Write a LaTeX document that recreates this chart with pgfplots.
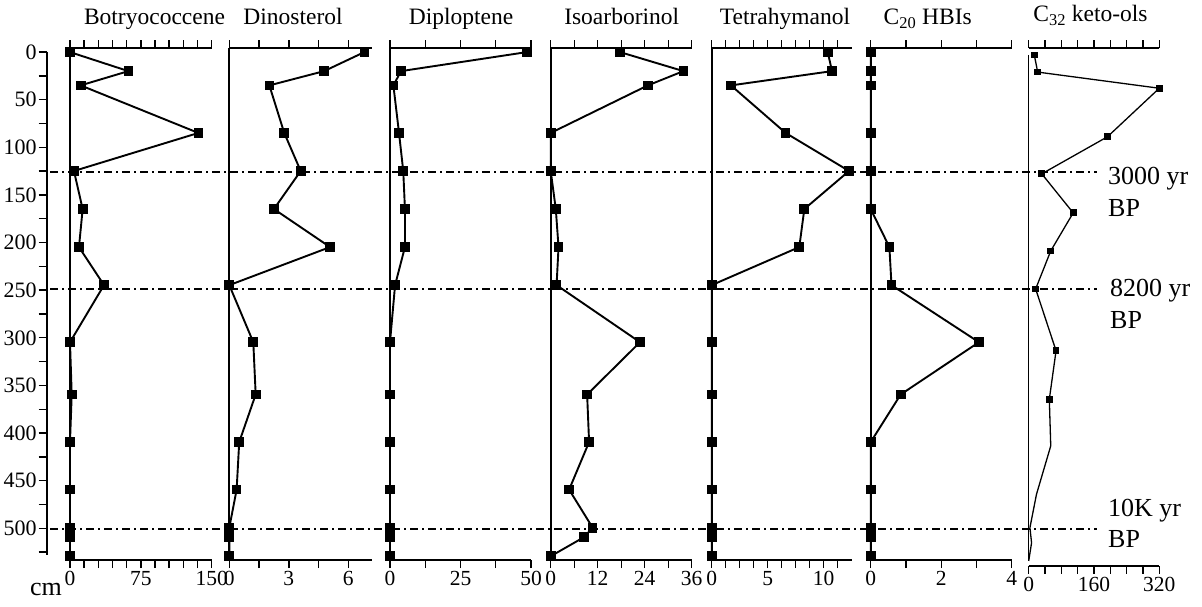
\documentclass[border=0pt]{standalone}
\usepackage{fontspec}
\setmainfont{Liberation Serif}
\usepackage{pgfplots}
\pgfplotsset{compat=1.18}
\pgfplotsset{
  base/.style={
    scale only axis, clip=false,
    y dir=reverse, ymin=-4, ymax=534, height=511.7pt,
    ytick=\empty,
    tick align=outside,
    major tick length=8pt,
    every tick/.style={line width=1.4pt, black},
    axis line style={line width=2.2pt},
    tick label style={font=\fontsize{21.5}{22}\selectfont},
    /pgf/number format/assume math mode=true,
    anchor=center,
    every axis plot/.append style={black, line width=1.9pt, mark=square*, mark size=3.9pt, mark options={solid}},
  },
  panel/.style={base, axis x line*=bottom, axis y line*=left},
  toppanel/.style={base, axis x line*=top, axis y line=none, xticklabels={}},
}
\begin{document}
\begin{tikzpicture}
\useasboundingbox (0pt,0pt) rectangle (1202pt,607pt);

% depth axis
\begin{axis}[scale only axis, at={(47.2pt,303.5pt)}, anchor=center, width=1pt, height=503pt,
  xmin=0, xmax=1, ymin=0, ymax=528, y dir=reverse, hide x axis, axis y line*=left,
  ytick={0,50,...,500}, minor ytick={25,75,...,525}, tick align=outside,
  major tick length=8pt, minor tick length=8pt,
  every tick/.style={line width=1.4pt, black},
  axis line style={line width=2.2pt},
  yticklabel style={font=\fontsize{22}{22}\selectfont, inner sep=2pt},
  /pgf/number format/assume math mode=true]
\end{axis}
\node[font=\fontsize{26}{28}\selectfont, inner sep=0] at (46pt,17pt) {cm};

% Botryococcene
\begin{axis}[toppanel, at={(140.85pt,302.85pt)}, width=141.7pt, xmin=0, xmax=150,
  xtick={0,15,30,45,60,75,90,105,120,135,150}]
\end{axis}
\begin{axis}[panel, at={(140.85pt,302.85pt)}, width=141.7pt, xmin=0, xmax=150,
  xtick={0,15,30,45,60,75,90,105,120,135,150}, xticklabels={0,,,,,75,,,,,150}]
\addplot[] coordinates {(0,0) (61.8,20) (11.3,35) (135.9,85) (4.2,125) (13.4,165) (9.5,205) (36,245) (0,305) (1.8,360) (0,410) (0,460) (0,500) (0,510) (0,530)};
\end{axis}

% Dinosterol
\begin{axis}[toppanel, at={(300.5pt,302.85pt)}, width=142.4pt, xmin=0, xmax=7.18,
  xtick={0,1.5,3,4.5,6}]
\end{axis}
\begin{axis}[panel, at={(300.5pt,302.85pt)}, width=142.4pt, xmin=0, xmax=7.18,
  xtick={0,1.5,3,4.5,6}, xticklabels={0,,3,,6}]
\addplot[] coordinates {(6.81,0) (4.78,20) (2.02,35) (2.77,85) (3.6,125) (2.25,165) (5.08,205) (0,245) (1.21,305) (1.33,360) (0.5,410) (0.37,460) (0,500) (0,510) (0,530)};
\end{axis}

% Diploptene
\begin{axis}[toppanel, at={(460.5pt,302.85pt)}, width=141pt, xmin=0, xmax=50,
  xtick={0,12.5,25,37.5,50}]
\end{axis}
\begin{axis}[panel, at={(460.5pt,302.85pt)}, width=141pt, xmin=0, xmax=50,
  xtick={0,12.5,25,37.5,50}, xticklabels={0,,25,,50}]
\addplot[] coordinates {(48.5,0) (3.9,20) (1.2,35) (3.2,85) (4.7,125) (5.3,165) (5.3,205) (1.8,245) (0,305) (0,360) (0,410) (0,460) (0,500) (0,510) (0,530)};
\end{axis}

% Isoarborinol
\begin{axis}[toppanel, at={(621.2pt,302.85pt)}, width=141pt, xmin=0, xmax=36,
  xtick={0,6,12,18,24,30,36}]
\end{axis}
\begin{axis}[panel, at={(621.2pt,302.85pt)}, width=141pt, xmin=0, xmax=36,
  xtick={0,6,12,18,24,30,36}, xticklabels={0,,12,,24,,36}]
\addplot[] coordinates {(17.7,0) (33.9,20) (24.8,35) (0,85) (0,125) (1.3,165) (2.0,205) (1.5,245) (22.8,305) (9.3,360) (9.8,410) (4.7,460) (10.7,500) (8.5,510) (0,530)};
\end{axis}

% Tetrahymanol
\begin{axis}[toppanel, at={(781.7pt,302.85pt)}, width=140pt, xmin=0, xmax=12.5,
  xtick={0,1.25,2.5,3.75,5,6.25,7.5,8.75,10,11.25}]
\end{axis}
\begin{axis}[panel, at={(781.7pt,302.85pt)}, width=140pt, xmin=0, xmax=12.5,
  xtick={0,1.25,2.5,3.75,5,6.25,7.5,8.75,10,11.25}, xticklabels={0,,,,5,,,,10,}]
\addplot[] coordinates {(10.36,0) (10.74,20) (1.72,35) (6.6,85) (12.26,125) (8.27,165) (7.82,205) (0,245) (0,305) (0,360) (0,410) (0,460) (0,500) (0,510) (0,530)};
\end{axis}

% C20 HBIs
\begin{axis}[toppanel, at={(941.2pt,302.85pt)}, width=141pt, xmin=0, xmax=4,
  xtick={0,1,2,3,4}]
\end{axis}
\begin{axis}[panel, at={(941.2pt,302.85pt)}, width=141pt, xmin=0, xmax=4,
  xtick={0,1,2,3,4}, xticklabels={0,,2,,4}]
\addplot[] coordinates {(0,0) (0,20) (0,35) (0,85) (0,125) (0,165) (0.53,205) (0.59,245) (3.07,305) (0.85,360) (0,410) (0,460) (0,500) (0,510) (0,530)};
\end{axis}

% C32 keto-ols
\begin{axis}[toppanel, at={(1094pt,300pt)}, width=130.6pt, height=517.4pt, ymax=540, xmin=0, xmax=320,
  xtick={0,40,80,120,160,200,240,280,320}]
\end{axis}
\begin{axis}[panel, at={(1094pt,300pt)}, width=130.6pt, height=517.4pt, ymax=540, axis y line=none, xmin=0, xmax=320,
  xtick={0,40,80,120,160,200,240,280,320}, xticklabels={0,,,,160,,,,320}]
\draw[line width=1.4pt] (axis cs:0,3) -- (axis cs:0,535);
\addplot[line width=1.3pt, mark=none] coordinates {(50.5,365) (54,414) (19,465) (3,500) (7,516) (0,535)};
\addplot[line width=1.3pt, mark size=2.7pt] coordinates {(13.7,3) (22,21) (320,38) (193,89) (32,128) (109,169) (54,209) (17,249) (67,314) (50.5,365)};
\end{axis}

% horizons
\foreach \yy in {434.7,318,78}
  \draw[line width=1.8pt, dash pattern=on 8pt off 4pt on 2pt off 4pt] (50pt,\yy pt) -- (1097pt,\yy pt);

% titles
\begin{scope}[every node/.style={font=\fontsize{23.5}{26}\selectfont, inner sep=0, anchor=base}]
\node at (154.5pt,582pt) {Botryococcene};
\node at (293pt,582pt) {Dinosterol};
\node at (461pt,582pt) {Diploptene};
\node at (621.7pt,582pt) {Isoarborinol};
\node at (785pt,582pt) {Tetrahymanol};
\node at (927.7pt,582pt) {C\textsubscript{20} HBIs};
\node at (1090.5pt,585.3pt) {C\textsubscript{32} keto-ols};
\end{scope}

% annotations
\begin{scope}[every node/.style={font=\fontsize{26}{28}\selectfont, inner sep=0, anchor=base west}]
\node at (1108pt,422pt) {3000 yr};
\node at (1108pt,390pt) {BP};
\node at (1110pt,310pt) {8200 yr};
\node at (1110pt,278.7pt) {BP};
\node at (1108pt,90.3pt) {10K yr};
\node at (1108pt,59.3pt) {BP};
\end{scope}
\end{tikzpicture}
\end{document}
